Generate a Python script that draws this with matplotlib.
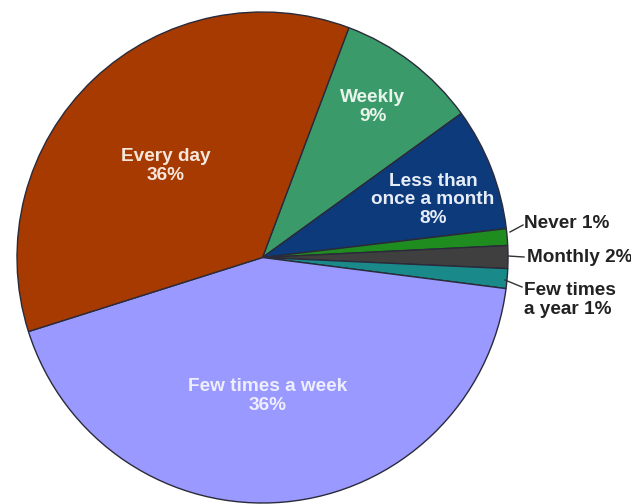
import matplotlib.pyplot as plt

# slice sizes (clockwise from the top)
categories = ["Weekly", "Less than once a month", "Never", "Monthly",
              "Few times a year", "Few times a week", "Every day"]
shares = [9.3, 8.1, 1.1, 1.5, 1.3, 43.1, 35.6]
label_texts = ["Weekly\n9%", "Less than\nonce a month\n8%", "Never 1%", "Monthly 2%",
               "Few times\na year 1%", "Few times a week\n36%", "Every day\n36%"]
colors = ["#3b9a6a", "#0d3a7a", "#1f8c1f", "#3f3f3f", "#19898a", "#9999ff", "#a63a00"]

W, H = 631, 504
fig = plt.figure(figsize=(W / 100, H / 100), dpi=100)
cx, cy, r = 262.5, 257.5, 245.5
ax = fig.add_axes([(cx - r) / W, (H - cy - r) / H, 2 * r / W, 2 * r / H])

wedges, _ = ax.pie(shares, colors=colors, startangle=69.4, counterclock=False,
                   radius=1, wedgeprops=dict(edgecolor="#2a2a3a", linewidth=1.0))
ax.set_xlim(-1, 1)
ax.set_ylim(-1, 1)
ax.axis("off")


def px(x, y):
    return (x - cx) / r, (cy - y) / r


plt.rcParams["font.family"] = ["Liberation Sans", "DejaVu Sans"]
inside = {0: (373, 107, "#e8f4ec"), 1: (433, 200, "#e6ecf8"),
          5: (268, 396, "#eeeeff"), 6: (166, 166, "#f6e6dc")}
for i, (x, y, c) in inside.items():
    tx, ty = px(x, y)
    ax.text(tx, ty, label_texts[i], ha="center", va="center", color=c,
            fontsize=13.7, fontweight="bold", linespacing=1.12)

outside = {2: ((510, 232), (523, 225), (524, 223)),
           3: ((508, 256), (524, 257), (527, 258)),
           4: ((505, 280), (522, 287), (524, 300))}
for i, (p0, p1, pt) in outside.items():
    x0, y0 = px(*p0)
    x1, y1 = px(*p1)
    ax.plot([x0, x1], [y0, y1], color="#333333", lw=1, clip_on=False)
    tx, ty = px(*pt)
    ax.text(tx, ty, label_texts[i], ha="left", va="center", color="#222222",
            fontsize=13.7, fontweight="bold", linespacing=1.12, clip_on=False)

fig.savefig("out.png", dpi=100)
